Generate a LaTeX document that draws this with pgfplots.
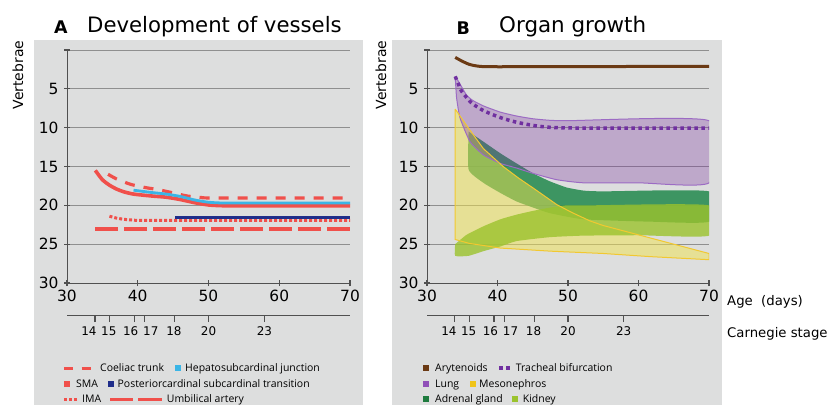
\documentclass[border=0pt]{standalone}
\usepackage{fontspec}
\setmainfont{DejaVu Sans}
\newfontfamily\legfont{Open Sans}
\usepackage{pgfplots}
\pgfplotsset{compat=1.18}

\definecolor{bg}{HTML}{DDDEDE}
\definecolor{gridc}{HTML}{8F8F8F}
\definecolor{axc}{HTML}{505050}
\definecolor{vred}{HTML}{F0504B}
\definecolor{lblue}{HTML}{3AB5E6}
\definecolor{dblue}{HTML}{1F2D8A}
\definecolor{brownc}{HTML}{6B3A14}
\definecolor{purpdot}{HTML}{7030A0}
\definecolor{lungf}{HTML}{792D9F}
\definecolor{lunge}{HTML}{9C6BC4}
\definecolor{mesof}{HTML}{EFE24E}
\definecolor{mesoe}{HTML}{F2C830}
\definecolor{adrf}{HTML}{21894D}
\definecolor{kidf}{HTML}{9BC32D}
\definecolor{lungleg}{HTML}{9050B8}
\definecolor{mesoleg}{HTML}{F0C419}
\definecolor{adrleg}{HTML}{1E7B3E}

\pgfplotsset{
  panel/.style={
    scale only axis, width=283bp, height=233bp, anchor=south west,
    xmin=30, xmax=70, ymin=0, ymax=30, y dir=reverse,
    axis x line*=bottom, axis y line*=left,
    xmajorticks=true, ymajorticks=true,
    xtick={30,40,...,70}, ytick={0,5,...,30},
    yticklabels={,5,10,15,20,25,30},
    ymajorgrids, grid style={gridc, line width=0.9bp},
    axis line style={axc, line width=1bp},
    every tick/.style={draw=axc, line width=1.2bp}, tick align=center, major tick length=6bp,
    ticklabel style={font=\fontsize{15.5}{17}\selectfont},
    /pgf/number format/assume math mode=true,
    xticklabel style={yshift=-0.5bp},
    yticklabel style={xshift=-2bp},
  },
  carn/.style={
    scale only axis, width=283bp, height=7bp, anchor=south west,
    xmin=30, xmax=70, ymin=0, ymax=1, clip=false,
    axis x line*=bottom, axis y line=none, ytick=\empty,
    x axis line style={draw=none},
    xtick={33.95,36.05,39.5,41,45.25,50,57.9},
    xticklabels={\hspace*{-12bp}14,\hspace*{-2bp}15,\hspace*{-7bp}16,\hspace*{12bp}17,\hspace*{-2bp}18,20,23},
    major tick length=0pt, every tick/.style={draw=none},
    xticklabel style={font=\fontsize{12}{14}\selectfont, yshift=-1.5bp},
    /pgf/number format/assume math mode=true,
  },
}

\newcommand{\legtext}[3]{\node[anchor=base west, inner sep=0pt, font=\legfont\fontsize{10.5}{12}\selectfont] at (#1,#2-3.8) {#3};}

\begin{document}
\begin{tikzpicture}[x=1bp,y=1bp]
\path[use as bounding box] (0,0) rectangle (837,405);
\fill[bg] (34,0) rectangle (363,365);
\fill[bg] (392,0) rectangle (722,365);

% titles
\node[anchor=base west, inner sep=0pt, font=\bfseries\fontsize{17.5}{19}\selectfont] at (54,371.7) {A};
\node[anchor=base west, inner sep=0pt, font=\fontsize{21.3}{23}\selectfont] at (87,372.3) {Development of vessels};
\node[anchor=base west, inner sep=0pt, font=\bfseries\fontsize{17.5}{19}\selectfont] at (456.5,370.7) {B};
\node[anchor=base west, inner sep=0pt, font=\fontsize{21.5}{23}\selectfont] at (499,372.5) {Organ growth};

\node[rotate=90, font=\fontsize{14}{16}\selectfont, inner sep=0pt] at (18,330) {Vertebrae};
\node[rotate=90, font=\fontsize{14}{16}\selectfont, inner sep=0pt] at (381,330) {Vertebrae};

\node[anchor=west, inner sep=0pt, font=\fontsize{13.3}{15}\selectfont] at (727,103) {Age\ \ (days)};
\node[anchor=west, inner sep=0pt, font=\fontsize{13.3}{15}\selectfont] at (727,71) {Carnegie stage};

% ---------------- Panel A ----------------
\begin{axis}[panel, at={(67bp,122bp)}]
\addplot[vred, line width=3.2bp, dash pattern=on 23bp off 6bp] coordinates {(34,23.05) (70,23.05)};
\addplot[vred, line width=3bp, dash pattern=on 3bp off 2bp] coordinates {(36,21.4) (37,21.65) (38,21.8) (40,21.95) (70,21.95)};
\addplot[dblue, line width=3bp] coordinates {(45.3,21.6) (70,21.6)};
\addplot[vred, line width=3.2bp, dash pattern=on 10bp off 9bp, smooth, tension=0.4] coordinates {(35.8,16.0) (37,16.6) (39,17.3) (41,17.7) (43,18.0) (45,18.4) (47,18.8) (49,19.0) (51,19.05) (70,19.05)};
\addplot[vred, line width=3.6bp, smooth, tension=0.4] coordinates {(34,15.5) (35,16.7) (36,17.4) (37,17.9) (38,18.25) (39.4,18.55) (42,18.8) (44,18.95) (46,19.25) (48,19.65) (50,19.95) (52,20.05) (55,20.05) (70,20.05)};
\addplot[lblue, line width=2.8bp, smooth, tension=0.4] coordinates {(39.4,18.05) (42,18.35) (44,18.55) (46,18.85) (48,19.3) (50,19.6) (52,19.7) (55,19.7) (70,19.7)};
\end{axis}
\begin{axis}[carn, at={(67bp,83bp)}]
\addplot[axc, line width=1bp] coordinates {(30,1) (70,1)};
\addplot[axc, line width=1.2bp, ycomb] coordinates {(33.95,1) (36.05,1) (39.5,1) (41,1) (45.25,1) (50,1) (57.9,1)};
\end{axis}

% ---------------- Panel B ----------------
\begin{axis}[panel, width=282bp, at={(427bp,122bp)}]
% adrenal gland
\addplot[draw=none, fill=adrf, fill opacity=0.85, smooth, tension=0.3] coordinates {
 (35.9,10.5) (38.0,11.8) (40.4,13.3) (42.7,14.6) (45.1,15.9) (47.4,16.9) (49.8,17.7) (52.2,18.1) (55,18.2) (70,18.2)
 (70,22.1) (61.6,22.1) (52.2,21.8) (47.4,21.0) (45.1,20.3) (42.7,19.5) (40.4,18.4) (38.0,17.1) (35.9,15.4) (35.9,10.5)};
% mesonephros
\addplot[draw=none, fill=mesof, fill opacity=0.5] coordinates {
 (34,7.6) (35.6,9.7) (38.0,12.7) (40.8,15.0) (43,16.5) (45.1,17.8) (48.4,19.9) (50.5,20.9) (53.1,22.0) (55,22.6) (60,23.8) (65,25.0) (70,26.2)
 (70,27.0) (61.6,26.6) (55,26.2) (47.5,25.9) (40.4,25.5) (36,24.9) (34,24.4) (34,7.6)};
% kidney
\addplot[draw=none, fill=kidf, fill opacity=0.8, smooth, tension=0.3] coordinates {
 (34,25.0) (35.6,23.8) (38,22.7) (40.4,21.8) (42.7,21.2) (45.1,20.7) (47.4,20.3) (49.8,20.0) (53,20.0) (70,20.0)
 (70,23.9) (60,23.85) (52.2,23.9) (47.4,24.1) (42.7,24.6) (40.4,25.3) (38,25.9) (35.9,26.5) (34,26.5) (34,25.0)};
% lung
\addplot[draw=none, fill=lungf, fill opacity=0.3, smooth, tension=0.3] coordinates {
 (34,3.4) (34.5,4.1) (35.6,5.8) (36.5,6.5) (38,7.2) (40.4,8.0) (42.7,8.5) (45,8.85) (47.4,9.05) (50,9.1) (70,9.1)
 (70,17.1) (60,17.1) (52.2,17.1) (48.4,16.7) (45.1,15.9) (42.7,15.2) (40.4,14.6) (38,13.5) (36.1,11.8) (34.7,8.8) (34.2,6.2) (34,3.4)};
% edges
\addplot[lunge, line width=1bp, smooth, tension=0.3] coordinates {
 (34,3.4) (34.5,4.1) (35.6,5.8) (36.5,6.5) (38,7.2) (40.4,8.0) (42.7,8.5) (45,8.85) (47.4,9.05) (50,9.1) (70,9.1)
 (70,17.1) (60,17.1) (52.2,17.1) (48.4,16.7) (45.1,15.9) (42.7,15.2) (40.4,14.6) (38,13.5) (36.1,11.8) (34.7,8.8) (34.2,6.2) (34,3.4)};
\addplot[mesoe, line width=1bp] coordinates {
 (34,7.6) (35.6,9.7) (38.0,12.7) (40.8,15.0) (43,16.5) (45.1,17.8) (48.4,19.9) (50.5,20.9) (53.1,22.0) (55,22.6) (60,23.8) (65,25.0) (70,26.2)
 (70,27.0) (61.6,26.6) (55,26.2) (47.5,25.9) (40.4,25.5) (36,24.9) (34,24.4) (34,7.6)};
% tracheal bifurcation
\addplot[purpdot, line width=3.5bp, dash pattern=on 3.5bp off 3.5bp, smooth, tension=0.4] coordinates {
 (34,3.4) (34.5,4.5) (34.9,5.3) (36.3,6.8) (38,7.8) (40.4,8.7) (42.7,9.3) (45,9.7) (47.4,9.95) (52,10.05) (70,10.05)};
% arytenoids
\addplot[brownc, line width=3bp, smooth, tension=0.4] coordinates {
 (34,0.95) (35,1.45) (36,1.85) (37,2.05) (38.5,2.15) (45,2.15) (70,2.1)};
\end{axis}
\begin{axis}[carn, width=282bp, at={(427bp,83bp)}]
\addplot[axc, line width=1bp] coordinates {(30,1) (70,1)};
\addplot[axc, line width=1.2bp, ycomb] coordinates {(33.95,1) (36.05,1) (39.5,1) (41,1) (45.25,1) (50,1) (57.9,1)};
\end{axis}

% ---------------- Legends ----------------
% A
\draw[vred, line width=3bp] (64,37) -- (72.7,37);
\draw[vred, line width=3bp] (81.7,37) -- (90.7,37);
\legtext{100}{37}{Coeliac trunk}
\fill[lblue] (174.5,34) rectangle (180.5,40);
\legtext{185}{37}{Hepatosubcardinal junction}
\fill[vred] (64,18) rectangle (70,24);
\legtext{76}{21}{SMA}
\fill[dblue] (108.3,18) rectangle (114.3,24);
\legtext{117.5}{21}{Posteriorcardinal subcardinal transition}
\draw[vred, line width=3bp, dash pattern=on 3bp off 2bp] (64,6) -- (77,6);
\legtext{82}{6}{IMA}
\draw[vred, line width=3bp] (110,6) -- (133.3,6);
\draw[vred, line width=3bp] (138.3,6) -- (161.7,6);
\legtext{166.7}{6}{Umbilical artery}
% B
\fill[brownc] (423.3,34) rectangle (429.3,40);
\legtext{435}{37}{Arytenoids}
\draw[purpdot, line width=3.5bp, dash pattern=on 3.5bp off 3.5bp] (499.3,37) -- (511.7,37);
\legtext{515.7}{37}{Tracheal bifurcation}
\fill[lungleg] (423.3,18) rectangle (429.3,24);
\legtext{435}{21}{Lung}
\fill[mesoleg] (470,18) rectangle (476,24);
\legtext{479}{21}{Mesonephros}
\fill[adrleg] (423.3,3) rectangle (429.3,9);
\legtext{435}{6}{Adrenal gland}
\fill[kidf] (511.7,3) rectangle (517.7,9);
\legtext{522.7}{6}{Kidney}
\end{tikzpicture}
\end{document}
